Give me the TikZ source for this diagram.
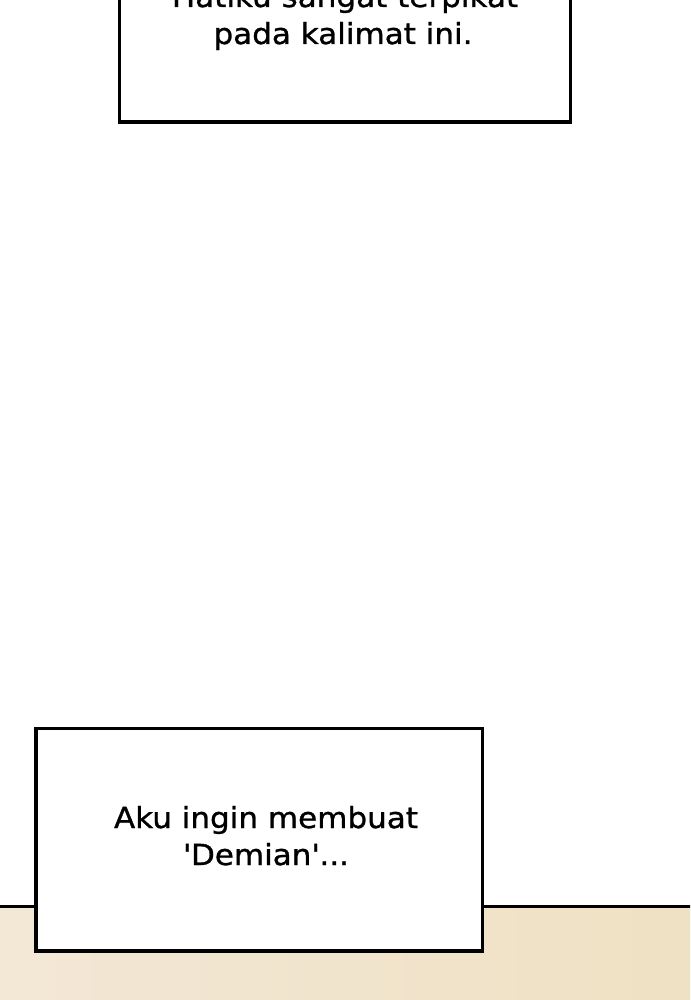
\documentclass[tikz,border=0pt]{standalone}
\usepackage{fontspec}
\newfontfamily\comicfont[FakeStretch=1.07,FakeBold=1]{DejaVu Sans}
\definecolor{floorL}{RGB}{243,231,214}
\definecolor{floorR}{RGB}{239,225,195}
\tikzset{
  panelbox/.style={draw=black, line width=3.2pt, fill=white},
  caption/.style={font=\comicfont\fontsize{29}{37}\selectfont, anchor=base, inner sep=0pt},
}
\begin{document}
\begin{tikzpicture}[x=1pt,y=-1pt]
\useasboundingbox (0,0) rectangle (690,1000);
\clip (0,0) rectangle (690,1000);
\fill[white] (0,0) rectangle (690,1000);
% floor
\shade[left color=floorL, right color=floorR] (0,906) rectangle (690,1000);
\coordinate (floorA) at (-5,906);
\coordinate (floorB) at (695,906);
\draw[line width=3pt] (floorA) -- (floorB);
% top caption box
\draw[panelbox] (119.5,-20) rectangle (570.5,122);
\node[caption] (t1) at (345,7) {Hatiku sangat terpikat};
\node[caption] (t2) at (343,44) {pada kalimat ini.};
% bottom caption box
\draw[panelbox] (36,728.5) rectangle (482.5,951);
\node[caption] (b1) at (266,828) {Aku ingin membuat};
\node[caption] (b2) at (266,865) {\textquotesingle Demian\textquotesingle...};
\end{tikzpicture}
\end{document}
